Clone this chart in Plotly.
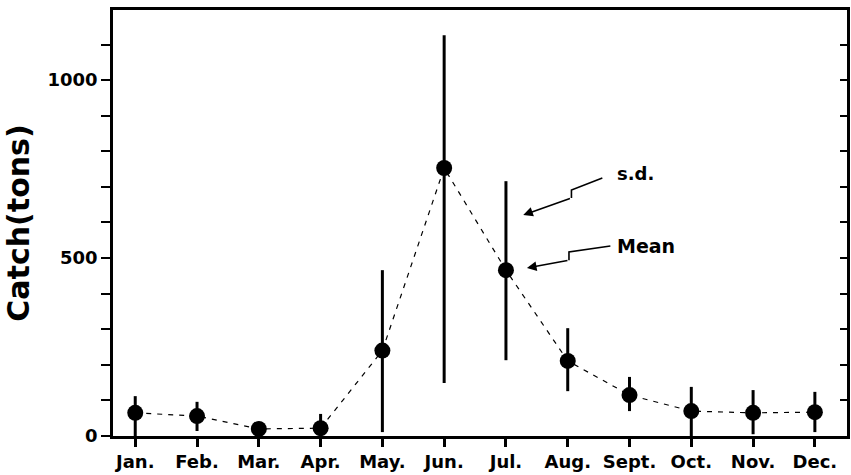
import plotly.graph_objects as go

months = ["Jan.", "Feb.", "Mar.", "Apr.", "May.", "Jun.", "Jul.", "Aug.", "Sept.", "Oct.", "Nov.", "Dec."]
mean_catch = [65, 56, 20, 22, 240, 753, 466, 211, 115, 70, 65, 67]
sd_upper = [112, 96, 40, 62, 466, 1126, 716, 303, 166, 138, 129, 124]
sd_lower = [0, 14, 0, 0, 11, 149, 213, 126, 70, 0, 5, 11]
y_tick_vals = list(range(0, 1200, 100))
y_tick_text = ["0", "", "", "", "", "500", "", "", "", "", "1000", ""]

xs = list(range(len(months)))
err_plus = [u - m for u, m in zip(sd_upper, mean_catch)]
err_minus = [m - l for l, m in zip(sd_lower, mean_catch)]

FONT = "DejaVu Sans, Arial, sans-serif"
YRANGE = [0, 1197]

fig = go.Figure()
fig.add_trace(go.Scatter(
    x=xs, y=mean_catch, mode="lines",
    line=dict(color="black", width=1.2, dash="5px,6px"),
    hoverinfo="skip", showlegend=False,
))
fig.add_trace(go.Scatter(
    x=xs, y=mean_catch, mode="markers",
    marker=dict(color="black", size=16),
    error_y=dict(type="data", symmetric=False, array=err_plus, arrayminus=err_minus,
                 color="black", thickness=3, width=0),
    showlegend=False,
))
# invisible trace on the right axis so it is drawn
fig.add_trace(go.Scatter(x=[xs[0]], y=[mean_catch[0]], yaxis="y2", mode="markers",
                         marker=dict(opacity=0), hoverinfo="skip", showlegend=False))

# zig-zag pointer lines
sd_path = [(7.56, 725), (7.06, 691), (7.06, 669)]
mean_path = [(7.69, 534), (7.02, 517), (7.02, 494)]
for path in (sd_path, mean_path):
    d = "M " + " L ".join(f"{x},{y}" for x, y in path)
    fig.add_shape(type="path", path=d, xref="x", yref="y",
                  line=dict(color="black", width=1.6))
fig.add_annotation(x=6.28, y=621, ax=7.06, ay=669, xref="x", yref="y", axref="x", ayref="y",
                   text="", showarrow=True, arrowhead=2, arrowsize=1.2, arrowwidth=1.6, arrowcolor="black")
fig.add_annotation(x=6.34, y=472, ax=7.02, ay=494, xref="x", yref="y", axref="x", ayref="y",
                   text="", showarrow=True, arrowhead=2, arrowsize=1.2, arrowwidth=1.6, arrowcolor="black")
fig.add_annotation(x=7.77, y=739, xref="x", yref="y", text="s.d.", showarrow=False,
                   xanchor="left", font=dict(family=FONT, size=18, color="black", weight="bold"))
fig.add_annotation(x=7.77, y=534, xref="x", yref="y", text="Mean", showarrow=False,
                   xanchor="left", font=dict(family=FONT, size=19, color="black", weight="bold"))

fig.update_layout(
    width=851, height=475,
    margin=dict(l=113, r=4, t=10, b=39),
    plot_bgcolor="white", paper_bgcolor="white",
    xaxis=dict(
        range=[-0.36, 11.52], tickvals=xs, ticktext=months, automargin=False,
        showgrid=False, zeroline=False, showline=True, linecolor="black", linewidth=2.5,
        mirror=True, ticks="outside", ticklen=8, tickwidth=2.5, tickcolor="black",
        tickfont=dict(family=FONT, size=18, color="black", weight="bold"),
    ),
    yaxis=dict(
        range=YRANGE, tickvals=y_tick_vals, ticktext=y_tick_text, automargin=False,
        showgrid=False, zeroline=False, showline=True, linecolor="black", linewidth=2.5,
        ticks="outside", ticklen=9, tickwidth=2, tickcolor="black",
        tickfont=dict(family=FONT, size=18, color="black", weight="bold"),
        title=dict(text="Catch(tons)", standoff=10,
                   font=dict(family=FONT, size=30, color="black", weight="bold")),
    ),
    yaxis2=dict(
        range=YRANGE, tickvals=y_tick_vals[1:], overlaying="y", side="right",
        showticklabels=False, automargin=False,
        showgrid=False, zeroline=False, showline=True, linecolor="black", linewidth=2.5,
        ticks="inside", ticklen=7, tickwidth=2, tickcolor="black",
    ),
)

fig.write_html(
    "out.html",
    config={"displayModeBar": False},
    post_script="document.body.style.margin='0';document.body.style.overflow='hidden';",
)
